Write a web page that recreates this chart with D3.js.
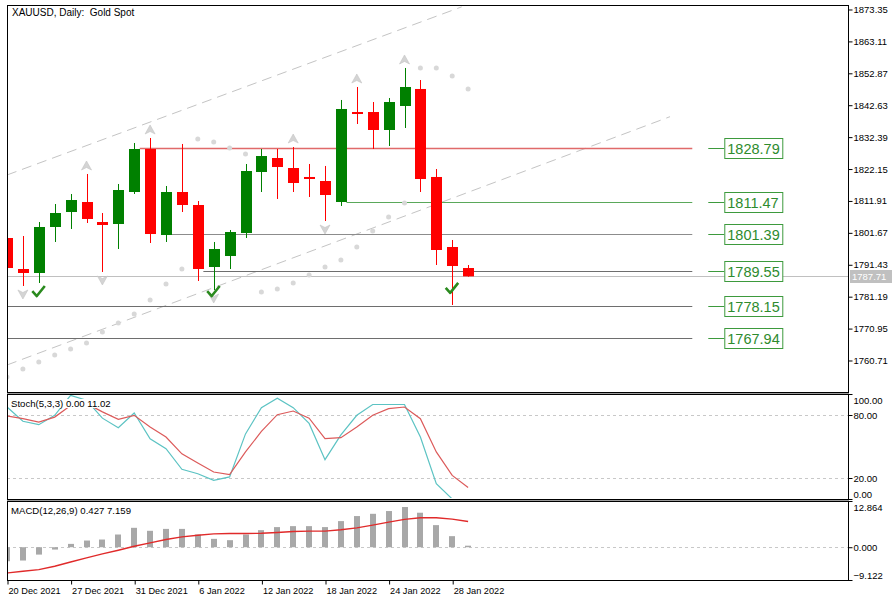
<!DOCTYPE html>
<html>
<head>
<meta charset="utf-8">
<script src="https://cdn.jsdelivr.net/npm/d3@7"></script>
<style>
body { margin: 0; background: #fff; }
svg { display: block; font-family: "Liberation Sans", Arial, sans-serif; }
</style>
</head>
<body>
<svg id="chart" width="892" height="602"></svg>
<script>
// daily bars, XAUUSD
const dates = ["20 Dec 2021", "21 Dec 2021", "22 Dec 2021", "23 Dec 2021", "27 Dec 2021", "28 Dec 2021",
    "29 Dec 2021", "30 Dec 2021", "31 Dec 2021", "3 Jan 2022", "4 Jan 2022", "5 Jan 2022", "6 Jan 2022",
    "7 Jan 2022", "10 Jan 2022", "11 Jan 2022", "12 Jan 2022", "13 Jan 2022", "14 Jan 2022", "17 Jan 2022",
    "18 Jan 2022", "19 Jan 2022", "20 Jan 2022", "21 Jan 2022", "24 Jan 2022", "25 Jan 2022", "26 Jan 2022",
    "27 Jan 2022", "28 Jan 2022", "31 Jan 2022"];
const opens = [1800.02, 1790.07, 1788.79, 1803.55, 1808.36, 1811.57, 1805.15, 1804.51, 1814.78, 1828.58,
    1800.98, 1814.78, 1810.61, 1790.71, 1794.24, 1801.62, 1821.20, 1825.69, 1822.48, 1819.60,
    1818.31, 1811.57, 1840.45, 1840.45, 1834.68, 1842.38, 1847.84, 1819.60, 1797.13, 1790.39];
const highs = [1800.98, 1800.66, 1805.15, 1810.93, 1814.14, 1820.56, 1808.04, 1817.35, 1830.51, 1832.11,
    1816.71, 1830.19, 1811.89, 1798.74, 1802.59, 1823.77, 1828.58, 1828.58, 1829.22, 1823.77,
    1823.13, 1844.31, 1848.48, 1843.66, 1844.95, 1854.58, 1850.72, 1822.16, 1799.38, 1791.35];
const lows = [1789.43, 1784.62, 1785.58, 1798.74, 1802.91, 1804.83, 1789.11, 1796.49, 1814.14, 1798.41,
    1798.74, 1808.36, 1786.22, 1783.33, 1790.07, 1800.02, 1814.78, 1812.54, 1814.78, 1813.18,
    1805.47, 1810.29, 1836.60, 1828.58, 1829.54, 1835.32, 1814.78, 1791.35, 1778.52, 1787.60];
const closes = [1790.39, 1788.79, 1803.55, 1808.04, 1812.21, 1806.12, 1804.19, 1815.42, 1828.58, 1801.30,
    1814.78, 1810.61, 1790.07, 1796.49, 1801.94, 1821.52, 1826.33, 1822.80, 1817.67, 1818.95,
    1813.82, 1841.42, 1839.81, 1834.68, 1843.66, 1848.48, 1818.95, 1796.17, 1791.03, 1787.71];

// parabolic SAR dots
const sar = [1755.41, 1757.98, 1760.22, 1762.47, 1764.40, 1766.32, 1769.85, 1772.74, 1775.63, 1780.12,
    1785.26, 1790.07, 1831.79, 1830.83, 1828.90, 1826.98, 1782.69, 1783.65, 1785.58, 1788.15,
    1790.71, 1792.96, 1797.13, 1802.26, 1806.76, 1811.25, 1854.58, 1854.58, 1852.01, 1847.84];

const fractalUp = [5, 9, 18, 22, 25];
const fractalDown = [1, 6, 13, 20];
const checkIdx = [2, 13, 28];
const checkPrice = [1781.4, 1781.4, 1782.4];

// channel lines: [bar index, price]
const channelUpper = [[0, 1820.24], [28.6, 1874.2]];
const channelLower = [[0, 1759.26], [41.7, 1838.95]];

// horizontal levels
const levels = [1828.79, 1811.47, 1801.39, 1789.55, 1778.15, 1767.94];
const levelFrom = [8.35, 21.35, 10.35, 12.35, -1, -1];
const levelColors = ["#e06a6a", "#5aa85a", "#8c8c8c", "#6e6e6e", "#6e6e6e", "#6e6e6e"];
const levelEnd = 43.1;
const lastPrice = 1787.71;

const priceTicks = [1873.35, 1863.11, 1852.87, 1842.63, 1832.39, 1822.15, 1811.91, 1801.67,
    1791.43, 1781.19, 1770.95, 1760.71];

// Stoch(5,3,3)
const stochMain = [87.6, 74, 70.8, 79.7, 98.7, 94, 77, 67.9, 81.9, 57.4, 47.9, 28.3, 24.1, 17.8, 21,
    62, 87, 96, 87, 72, 37.5, 61, 79.7, 90, 90, 90, 59, 14.6, 0, 0];
const stochSignal = [79, 76.5, 73.3, 78, 89, 91, 83, 75.9, 79.7, 68.6, 59, 43, 34.3, 25.7, 23.2,
    44.8, 64.4, 80.3, 83.8, 77, 57.5, 58.4, 68.6, 79.7, 86, 87.6, 76.5, 44.8, 22.5, 11.02];
const stochTicks = [100, 80, 20, 0];

// MACD(12,26,9)
const macdHist = [-3.9, -3.7, -2.05, -0.65, 0.93, 1.86, 2.14, 3.54, 5.4, 4.57, 5.1, 5.1, 3.54, 2.33, 1.96,
    3.54, 4.75, 5.6, 5.87, 5.87, 5.6, 7.27, 8.67, 9.3, 10.07, 11.19, 9.6, 6.15, 3.08, 0.427];
const macdSignal = [-7.18, -6.7, -6.24, -5.3, -4.1, -2.98, -1.86, -0.84, 0.28, 1.21, 2.14, 2.89, 3.35, 3.72,
    3.82, 3.8, 3.9, 4.1, 4.38, 4.47, 4.47, 4.85, 5.4, 6.15, 6.99, 7.74, 8.2, 8.2, 7.83, 7.159];
const macdTicks = [12.864, 0, -9.122];

const dateTicks = [0, 4, 8, 12, 16, 20, 24, 28];

const svg = d3.select("#chart");
const L = 7, R = 848;
const panes = {
    price: { top: 5, bottom: 392 },
    stoch: { top: 394, bottom: 499 },
    macd: { top: 501, bottom: 580 }
};

const x = d3.scaleLinear().domain([0, 29]).range([7, 468.1]);
const y = d3.scaleLinear().domain([1750.6, 1874.79]).range([panes.price.bottom, panes.price.top]);
const yS = d3.scaleLinear().domain([0, 100]).range([panes.stoch.bottom, panes.stoch.top]);
const yM = d3.scaleLinear().domain([-9.122, 12.864]).range([panes.macd.bottom, panes.macd.top]);

const bars = dates.map((d, i) => ({ i, o: opens[i], h: highs[i], l: lows[i], c: closes[i] }));

// separators between panes
svg.append("rect").attr("x", L).attr("y", panes.price.bottom).attr("width", R - L + 1)
    .attr("height", panes.stoch.top - panes.price.bottom + 1).attr("fill", "#9a9a9a");
svg.append("rect").attr("x", L).attr("y", panes.stoch.bottom).attr("width", R - L + 1)
    .attr("height", panes.macd.top - panes.stoch.bottom + 1).attr("fill", "#9a9a9a");

const defs = svg.append("defs");
Object.entries(panes).forEach(([k, p]) => {
    defs.append("clipPath").attr("id", "clip-" + k)
        .append("rect").attr("x", L + 1).attr("y", p.top + 1)
        .attr("width", R - L - 1).attr("height", p.bottom - p.top - 2);
    svg.append("rect").attr("x", L + 0.5).attr("y", p.top + 0.5)
        .attr("width", R - L).attr("height", p.bottom - p.top).attr("fill", "#fff");
});

// ---------- price pane ----------
const gp = svg.append("g").attr("clip-path", "url(#clip-price)");
const line = d3.line().x(d => x(d[0])).y(d => y(d[1]));

[channelUpper, channelLower].forEach(ch => {
    gp.append("path").attr("d", line(ch)).attr("fill", "none")
        .attr("stroke", "#c4c4c4").attr("stroke-width", 1).attr("stroke-dasharray", "10,6");
});

// last price line
gp.append("line").attr("x1", L).attr("x2", R)
    .attr("y1", Math.round(y(lastPrice)) + 0.5).attr("y2", Math.round(y(lastPrice)) + 0.5)
    .attr("stroke", "#c0c0c0");

levels.forEach((lv, k) => {
    const yy = Math.round(y(lv)) + 0.5;
    gp.append("line").attr("x1", x(levelFrom[k])).attr("x2", x(levelEnd))
        .attr("y1", yy).attr("y2", yy)
        .attr("stroke", levelColors[k]).attr("stroke-width", k === 0 ? 1.6 : 1);
    gp.append("line").attr("x1", x(levelEnd) + 16).attr("x2", x(levelEnd) + 32)
        .attr("y1", yy).attr("y2", yy).attr("stroke", "#3d9a3d");
    gp.append("rect").attr("x", x(levelEnd) + 32.5).attr("y", yy - 10)
        .attr("width", 58).attr("height", 20)
        .attr("fill", "#fff").attr("stroke", "#3d9a3d");
    gp.append("text").attr("x", x(levelEnd) + 35).attr("y", yy + 5.5)
        .attr("font-size", 14.5).attr("fill", "#2e8b2e").text(lv.toFixed(2));
});

gp.selectAll("circle.sar").data(sar).join("circle").attr("class", "sar")
    .attr("cx", (d, i) => x(i)).attr("cy", d => y(d)).attr("r", 2.5).attr("fill", "#d8d8d8");

gp.selectAll("path.fup").data(fractalUp).join("path").attr("class", "fup")
    .attr("d", i => {
        const cx = x(i), t = y(highs[i]) - 13;
        return `M${cx},${t} L${cx + 5},${t + 9} L${cx},${t + 6.5} L${cx - 5},${t + 9} Z`;
    })
    .attr("fill", "#d4d4d4").attr("stroke", "#c4c4c4").attr("stroke-width", 0.6);
gp.selectAll("path.fdn").data(fractalDown).join("path").attr("class", "fdn")
    .attr("d", i => {
        const cx = x(i), t = y(lows[i]) + 13;
        return `M${cx},${t} L${cx + 5},${t - 9} L${cx},${t - 6.5} L${cx - 5},${t - 9} Z`;
    })
    .attr("fill", "#d4d4d4").attr("stroke", "#c4c4c4").attr("stroke-width", 0.6);

const candle = gp.selectAll("g.bar").data(bars).join("g").attr("class", "bar");
const col = d => d.c >= d.o ? "#008000" : "#ff0000";
candle.append("line")
    .attr("x1", d => Math.round(x(d.i)) + 0.5).attr("x2", d => Math.round(x(d.i)) + 0.5)
    .attr("y1", d => y(d.h)).attr("y2", d => y(d.l)).attr("stroke", col);
candle.append("rect")
    .attr("x", d => Math.round(x(d.i)) - 5).attr("width", 11)
    .attr("y", d => y(Math.max(d.o, d.c)))
    .attr("height", d => Math.max(2, y(Math.min(d.o, d.c)) - y(Math.max(d.o, d.c))))
    .attr("fill", col);

gp.selectAll("path.check").data(checkIdx).join("path").attr("class", "check")
    .attr("d", (i, k) => {
        const cx = x(i) - 2, b = y(checkPrice[k]);
        return `M${cx - 4.5},${b - 5} L${cx},${b} L${cx + 8},${b - 10}`;
    })
    .attr("fill", "none").attr("stroke", "#2a8a1e").attr("stroke-width", 2.6)
    .attr("stroke-linejoin", "round");

svg.append("text").attr("x", 12).attr("y", 16).attr("font-size", 10).attr("fill", "#000")
    .attr("xml:space", "preserve").text("XAUUSD, Daily:  Gold Spot");

// ---------- stochastic pane ----------
const gs = svg.append("g").attr("clip-path", "url(#clip-stoch)");
[80, 20].forEach(v => {
    gs.append("line").attr("x1", L).attr("x2", R)
        .attr("y1", Math.round(yS(v)) + 0.5).attr("y2", Math.round(yS(v)) + 0.5)
        .attr("stroke", "#c8c8c8").attr("stroke-dasharray", "3,3");
});
const sLine = d3.line().x((d, i) => x(i));
gs.append("path").attr("d", sLine.y(d => yS(d))(stochMain)).attr("fill", "none")
    .attr("stroke", "#5cc3c3").attr("stroke-width", 1.2);
gs.append("path").attr("d", sLine.y(d => yS(d))(stochSignal)).attr("fill", "none")
    .attr("stroke", "#dc5a5a").attr("stroke-width", 1.2);

// ---------- MACD pane ----------
const gm = svg.append("g").attr("clip-path", "url(#clip-macd)");
gm.append("line").attr("x1", L).attr("x2", R)
    .attr("y1", Math.round(yM(0)) + 0.5).attr("y2", Math.round(yM(0)) + 0.5)
    .attr("stroke", "#c8c8c8").attr("stroke-dasharray", "3,3");
gm.selectAll("rect.hist").data(macdHist).join("rect").attr("class", "hist")
    .attr("x", (d, i) => Math.round(x(i)) - 3).attr("width", 6)
    .attr("y", d => yM(Math.max(0, d))).attr("height", d => Math.abs(yM(d) - yM(0)))
    .attr("fill", "#a8a8a8");
gm.append("path").attr("d", d3.line().x((d, i) => x(i)).y(d => yM(d))(macdSignal))
    .attr("fill", "none").attr("stroke", "#e02a2a").attr("stroke-width", 1.4);

// pane frames drawn over the content
Object.values(panes).forEach(p => {
    svg.append("rect").attr("x", L + 0.5).attr("y", p.top + 0.5)
        .attr("width", R - L).attr("height", p.bottom - p.top)
        .attr("fill", "none").attr("stroke", "#000");
});

// indicator captions with white backing
function caption(txt, yy) {
    const t = svg.append("text").attr("x", 11).attr("y", yy).attr("font-size", 9.6)
        .attr("fill", "#000").text(txt);
    const bb = t.node().getBBox();
    svg.insert("rect", () => t.node()).attr("x", bb.x - 1).attr("y", bb.y + 1)
        .attr("width", bb.width + 2).attr("height", bb.height - 2).attr("fill", "#fff");
}
caption("Stoch(5,3,3) 0.00 11.02", 407);
caption("MACD(12,26,9) 0.427 7.159", 514);

// ---------- axes ----------
function styleAxis(g) {
    g.select(".domain").remove();
    g.selectAll("text").attr("font-size", 9.5).attr("fill", "#000")
        .attr("font-family", "'Liberation Sans', Arial, sans-serif");
    g.selectAll("line").attr("stroke", "#000");
}
svg.append("g").attr("transform", `translate(${R + 0.5},0)`)
    .call(d3.axisRight(y).tickValues(priceTicks).tickSize(4).tickPadding(1).tickFormat(d3.format(".2f")))
    .call(styleAxis);

svg.append("g").attr("transform", `translate(${R + 0.5},0)`)
    .call(d3.axisRight(yS).tickValues(stochTicks).tickSize(4).tickPadding(1).tickFormat(d3.format(".2f")))
    .call(styleAxis)
    .call(g => g.selectAll(".tick text").attr("dy", d => d === 100 ? "0.95em" : d === 0 ? "-0.2em" : "0.32em"));

svg.append("g").attr("transform", `translate(${R + 0.5},0)`)
    .call(d3.axisRight(yM).tickValues(macdTicks).tickSize(4).tickPadding(1).tickFormat(d3.format(".3f")))
    .call(styleAxis)
    .call(g => g.selectAll(".tick text").attr("dy", (d, k) => k === 0 ? "0.95em" : k === 2 ? "-0.2em" : "0.32em"));

// last price tag
const lpY = Math.round(y(lastPrice));
svg.append("rect").attr("x", R + 2).attr("y", lpY - 6).attr("width", 44).attr("height", 13).attr("fill", "#c0c0c0");
svg.append("text").attr("x", R + 4).attr("y", lpY + 4).attr("font-size", 9.5).attr("fill", "#fff")
    .text(lastPrice.toFixed(2));

svg.append("g").attr("transform", `translate(0,${panes.macd.bottom + 0.5})`)
    .call(d3.axisBottom(x).tickValues(dateTicks).tickSize(4).tickPadding(3).tickFormat(i => dates[i]))
    .call(styleAxis)
    .call(g => g.selectAll(".tick text").attr("text-anchor", "start").attr("dx", 1).attr("font-size", 9.2))
    .call(g => g.selectAll(".tick line").attr("transform", "translate(0.5,0)"));
</script>
</body>
</html>
